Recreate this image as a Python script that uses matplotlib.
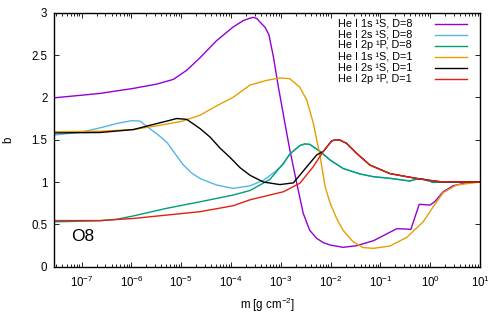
import numpy as np
import matplotlib
matplotlib.use("Agg")
import matplotlib.pyplot as plt
from matplotlib.lines import Line2D

plt.rcParams['font.family'] = ['Liberation Sans', 'DejaVu Sans']
plt.rcParams['mathtext.fontset'] = 'custom'
plt.rcParams['mathtext.rm'] = 'Liberation Sans'
plt.rcParams['mathtext.it'] = 'Liberation Sans'

# log10 of column mass m and departure coefficient b
lm_1s_d8 = [-7.55, -6.97, -6.63, -5.96, -5.49, -5.16, -4.89, -4.62, -4.29, -3.96, -3.76,
            -3.62, -3.555, -3.48, -3.42, -3.32, -3.24, -3.15, -3.05, -2.92, -2.82, -2.68,
            -2.55, -2.42, -2.28, -2.15, -2.01, -1.75, -1.48, -1.14, -0.88, -0.67, -0.47,
            -0.39, -0.22, -0.005, 0.09, 0.26, 0.46, 0.73, 1.0]
b_1s_d8 = [1.995, 2.027, 2.047, 2.106, 2.157, 2.212, 2.32, 2.47, 2.67, 2.83, 2.905,
           2.935, 2.945, 2.93, 2.89, 2.83, 2.74, 2.48, 2.125, 1.70, 1.38, 0.985,
           0.63, 0.43, 0.335, 0.285, 0.256, 0.229, 0.248, 0.307, 0.386, 0.449, 0.445,
           0.44, 0.737, 0.728, 0.767, 0.885, 0.956, 0.992, 1.0]

lm_2s_d8 = [-7.55, -6.97, -6.63, -6.30, -6.0, -5.83, -5.63, -5.47, -5.29, -5.13, -4.97,
            -4.80, -4.62, -4.29, -3.96, -3.62, -3.35, -3.12, -2.95, -2.82, -2.62, -2.52,
            -2.42, -2.21, -2.01, -1.75, -1.41, -1.14, -0.81, -0.41, -0.27, -0.14, 0.06,
            0.40, 1.0]
b_2s_d8 = [1.555, 1.594, 1.64, 1.69, 1.725, 1.72, 1.63, 1.56, 1.47, 1.34, 1.21,
           1.11, 1.04, 0.965, 0.925, 0.955, 1.02, 1.12, 1.21, 1.33, 1.43, 1.45,
           1.445, 1.36, 1.26, 1.16, 1.095, 1.063, 1.044, 1.012, 1.035, 1.035, 0.996,
           1.0, 1.0]

lm_2p_d8 = [-7.55, -6.63, -6.30, -5.96, -5.29, -4.62, -3.96, -3.62, -3.22, -2.95, -2.82,
            -2.62, -2.52, -2.42, -2.21, -2.01, -1.75, -1.41, -1.14, -0.81, -0.41, -0.27,
            -0.14, 0.06, 0.40, 1.0]
b_2p_d8 = [0.53, 0.543, 0.56, 0.60, 0.69, 0.767, 0.846, 0.90, 1.03, 1.22, 1.33,
           1.43, 1.45, 1.445, 1.36, 1.26, 1.16, 1.095, 1.063, 1.044, 1.012, 1.035,
           1.035, 0.996, 1.0, 1.0]

lm_1s_d1 = [-7.55, -6.63, -5.96, -5.43, -4.97, -4.62, -4.29, -3.96, -3.62, -3.29, -3.02,
            -2.82, -2.62, -2.48, -2.35, -2.28, -2.21, -2.11, -2.01, -1.88, -1.75, -1.55,
            -1.35, -1.14, -0.81, -0.47, -0.14, 0.06, 0.26, 0.53, 0.86, 1.0]
b_1s_d1 = [1.594, 1.60, 1.62, 1.67, 1.72, 1.79, 1.90, 2.0, 2.145, 2.20, 2.23,
           2.22, 2.12, 1.97, 1.70, 1.50, 1.30, 0.945, 0.75, 0.57, 0.43, 0.295,
           0.226, 0.217, 0.244, 0.347, 0.531, 0.708, 0.874, 0.965, 0.99, 1.0]

lm_2s_d1 = [-7.55, -6.63, -5.96, -5.63, -5.29, -5.09, -4.89, -4.62, -4.42, -4.22, -4.02,
            -3.82, -3.62, -3.35, -3.02, -2.75, -2.62, -2.48, -2.28, -2.15, -1.98, -1.90,
            -1.81, -1.68, -1.48, -1.21, -0.81, -0.47, -0.14, 0.20, 1.0]
b_2s_d1 = [1.58, 1.585, 1.62, 1.67, 1.72, 1.75, 1.74, 1.63, 1.53, 1.40, 1.29,
           1.17, 1.08, 1.0, 0.97, 0.99, 1.08, 1.18, 1.32, 1.36, 1.485, 1.50,
           1.495, 1.457, 1.34, 1.20, 1.10, 1.063, 1.03, 1.004, 1.0]

lm_2p_d1 = [-7.55, -6.63, -5.96, -5.29, -4.62, -3.96, -3.62, -2.95, -2.62, -2.35, -2.15,
            -1.98, -1.90, -1.81, -1.68, -1.48, -1.21, -0.81, -0.47, -0.14, 0.20, 1.0]
b_2p_d1 = [0.545, 0.545, 0.57, 0.61, 0.65, 0.72, 0.79, 0.885, 0.985, 1.18, 1.36,
           1.485, 1.50, 1.495, 1.457, 1.34, 1.20, 1.10, 1.063, 1.03, 1.004, 1.0]

series = [
    (lm_1s_d8, b_1s_d8, '#9400d3', 'He I 1s \u00b9S, D=8'),
    (lm_2s_d8, b_2s_d8, '#56b4e9', 'He I 2s \u00b9S, D=8'),
    (lm_2p_d8, b_2p_d8, '#009e73', 'He I 2p \u00b9P, D=8'),
    (lm_1s_d1, b_1s_d1, '#e69f00', 'He I 1s \u00b9S, D=1'),
    (lm_2s_d1, b_2s_d1, '#000000', 'He I 2s \u00b9S, D=1'),
    (lm_2p_d1, b_2p_d1, '#e51e10', 'He I 2p \u00b9P, D=1'),
]

W, H = 500, 314
fig = plt.figure(figsize=(W / 100, H / 100), dpi=100)
ax = fig.add_axes([0.1086, 0.1506, 0.8514, 0.809])

for lm, b, col, lab in series:
    ax.plot(10.0 ** np.array(lm), b, color=col, lw=1.0)

ax.set_xscale('log')
ax.set_xlim(10 ** -7.55, 10)
ax.set_ylim(0, 3)
ax.set_xticks([10.0 ** k for k in range(-7, 2)])
ax.set_yticks([0, 0.5, 1, 1.5, 2, 2.5, 3])
ax.set_yticklabels(['0', '0.5', '1', '1.5', '2', '2.5', '3'])
ax.tick_params(which='both', direction='in', top=True, right=True, labelsize=8.3)
ax.tick_params(axis='x', pad=6)
ax.tick_params(axis='y', pad=5)
ax.tick_params(which='major', length=3.5, width=0.6)
ax.tick_params(which='minor', length=2, width=0.6)
for s in ax.spines.values():
    s.set_linewidth(1.0)

ax.set_xlabel(r'm [g cm$^{-2}$]', fontsize=8.3, labelpad=4)
ax.set_ylabel('b', fontsize=8.3, labelpad=12)

ax.text(0.04, 0.10, 'O8', transform=ax.transAxes, fontsize=12.5)

# gnuplot-style key: right-aligned text, sample line on the right
for i, (lm, b, col, lab) in enumerate(series):
    yk = 1 - (23.5 + 11 * i) / H
    fig.text(412 / W, yk, lab, ha='right', va='center', fontsize=7.8)
    fig.add_artist(Line2D([435 / W, 467 / W], [yk, yk], color=col, lw=1.0))

fig.savefig('out.png', dpi=100)
